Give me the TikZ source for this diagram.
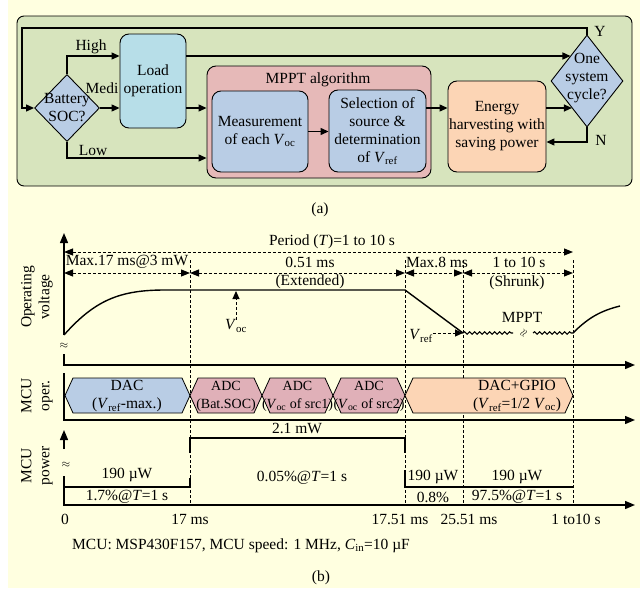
\documentclass[tikz,border=0pt]{standalone}
\usepackage{fontspec}
\setmainfont{Liberation Serif}
\usetikzlibrary{shapes.geometric,arrows.meta,decorations.pathmorphing}

\definecolor{bgyellow}{HTML}{FFFFE0}
\definecolor{flowgreen}{HTML}{D7E4BD}
\definecolor{boxblue}{HTML}{B9CDE5}
\definecolor{boxcyan}{HTML}{B7DEE8}
\definecolor{boxpink}{HTML}{E6B9B8}
\definecolor{adcpink}{HTML}{E0B0B8}
\definecolor{boxpeach}{HTML}{FCD5B5}

\def \xo {64}
\def \ta {190}
\def \tb {405}
\def \tc {463}
\def \td {573}
\newcommand{\Vsub}[1]{\textit{V}\textsubscript{#1}}
\tikzstyle{txt}=[font=\fontsize{15.5}{18}\selectfont, inner sep=0pt, align=center]
\tikzstyle{smalltxt}=[font=\fontsize{14}{18}\selectfont, inner sep=0pt, align=center]
\tikzstyle{brk}=[font=\fontsize{11}{11}\selectfont, inner sep=0pt]
\tikzstyle{blk}=[draw, rounded corners=9pt, line width=0.9pt]
\tikzstyle{dec}=[draw, diamond, line width=0.9pt, fill=boxblue, inner sep=0pt]
\tikzstyle{arr}=[-{Triangle[length=8pt,width=7pt]}, line width=1.3pt]
\tikzstyle{axis}=[-{Triangle[length=10pt,width=8pt]}, line width=1.4pt]
\tikzstyle{dim}=[{Triangle[length=9pt,width=7pt]}-{Triangle[length=9pt,width=7pt]}, dash pattern=on 3pt off 2pt, line width=1pt]
\tikzstyle{darr}=[-{Triangle[length=8pt,width=7pt]}, dash pattern=on 3pt off 2pt, line width=1pt]
\tikzstyle{vline}=[dash pattern=on 3pt off 2pt, line width=1pt]
\tikzstyle{wave}=[decorate, decoration={snake, amplitude=1.2pt, segment length=5pt}, line width=1.1pt]
\tikzstyle{level}=[line width=1.4pt]

\begin{document}
\begin{tikzpicture}[x=1pt, y=-1pt]
\useasboundingbox (0,0) rectangle (640,597);
\fill[white] (0,0) rectangle (640,597);
\fill[bgyellow] (8,0) rectangle (640,588);

\filldraw[fill=flowgreen, rounded corners=7pt, line width=0.9pt] (17,16) rectangle (632,186);

\node[dec, minimum width=65, minimum height=67] (B) at (67,108) {};
\node[txt] (Bt) at (B) {Battery\\SOC?};
\node[blk, txt, fill=boxcyan, minimum width=66, minimum height=94] (L) at (153,81) {Load\\operation};
\node[blk, fill=boxpink, minimum width=224, minimum height=112] (M) at (319,122) {};
\node[txt] (Mt) at (318,80) {MPPT algorithm};
\node[blk, txt, fill=boxblue, minimum width=96, minimum height=81] (Me) at (260,131.5) {Measurement\\of each \Vsub{oc}};
\node[blk, txt, fill=boxblue, minimum width=97, minimum height=82] (S) at (377.5,131) {Selection of\\source \&\\determination\\of \Vsub{ref}};
\node[blk, txt, fill=boxpeach, minimum width=98, minimum height=91] (E) at (497,126.5) {Energy\\harvesting with\\saving power};
\node[dec, minimum width=72, minimum height=92] (C) at (587,81) {};
\node[txt] (Ct) at (587,78) {One\\system\\cycle?};

\coordinate (tl) at (22,28);
\coordinate (hi) at (0,56);
\coordinate (mid) at (0,108);
\coordinate (no) at (0,142);
\coordinate (lo) at (0,158);

\draw[arr] (C.north) |- (tl) |- (B.west);
\draw[arr] (B.north) |- (L.west |- hi);
\draw[arr] (B.east) -- (L.west |- B.east);
\draw[arr] (B.south) |- (M.west |- lo);
\draw[arr] (L.east |- mid) -- (M.west |- mid);
\draw[arr] (L.east |- hi) -- (C.123 |- hi);
\draw[arr] (Me.east) -- (Me.east -| S.west);
\draw[arr] (S.east |- mid) -- (E.west |- mid);
\draw[arr] (E.east |- mid) -- (C.241 |- mid);
\draw[arr] (C.south) |- (E.east |- no);

\node[txt] (hiL) at (91,47) {High};
\node[txt] (meL) at (102,88) {Medi};
\node[txt] (loL) at (93,150) {Low};
\node[txt] (yL) at (600,31) {Y};
\node[txt] (nL) at (601,140) {N};
\node[txt] (capa) at (320,210) {(a)};

\node[txt, rotate=90] (yv) at (37,297) {Operating\\voltage};
\node[txt, rotate=90] (yo) at (37,396) {MCU\\oper.};
\node[txt, rotate=90] (yp) at (37,466) {MCU\\power};

\draw[axis] (\xo,335) -- (\xo,233);
\draw[axis] (\xo,354) -- (\xo,365) -- (635,365);
\node[brk] (brk1) at (\xo,346) {$\approx$};
\draw[axis] (\xo,373) -- (\xo,420) -- (635,420);
\draw[axis] (\xo,449) -- (\xo,430);
\node[brk] (brk2) at (66,465) {$\approx$};
\draw[axis] (\xo,476) -- (\xo,505) -- (635,505);

\draw[dim] (\xo,252) -- (\td,252);
\foreach \a/\b in {\xo/\ta, \ta/\tb, \tb/\tc, \tc/\td}
    \draw[dim] (\a,273) -- (\b,273);
\foreach \x in {\ta, \tb, \tc, \td}
    \draw[vline] (\x,260) -- (\x,505);

\node[txt] (per) at (332,242) {Period (\textit{T})=1 to 10 s};
\node[txt] (d1) at (127,262) {Max.17 ms@3 mW};
\node[txt] (d2) at (310,262) {0.51 ms};
\node[txt] (d2b) at (310,282) {(Extended)};
\node[txt] (d3) at (437,262) {Max.8 ms};
\node[txt] (d4) at (519,262) {1 to 10 s};
\node[txt] (d4b) at (517,283) {(Shrunk)};

\coordinate (flat) at (0,291);
\coordinate (dip) at (\tc,333);
\draw[level] (\xo,335) .. controls (95,300) and (120,290) .. (165,290) -- (\tb,290) -- (dip);
\draw[wave] (dip) -- (513,333);
\node[brk, rotate=60] (brk3) at (524,333) {$\approx$};
\draw[wave] (533,333) -- (\td,333);
\draw[level] (\td,333) .. controls (588,318) and (600,311) .. (620,306);
\node[txt] (mppt) at (522,317) {MPPT};
\node[txt] (voc) at (236,326) {\Vsub{oc}};
\draw[darr] (voc.north) -- (voc.north |- flat);
\node[txt] (vref) at (421,336) {\Vsub{ref}};
\draw[darr] (vref.east |- dip) -- (dip);

\foreach \a/\b/\c in {65/\ta/boxblue, \ta/262/adcpink, 262/333/adcpink, 333/\tb/adcpink, \tb/\td/boxpeach}
    \filldraw[fill=\c, line width=0.8pt] (\a,395.5) -- (\a+8,378) -- (\b-8,378) -- (\b,395.5) -- (\b-8,413) -- (\a+8,413) -- cycle;
\node[txt] (op1) at (127,396) {DAC\\(\Vsub{ref}-max.)};
\node[smalltxt] (op2) at (226,396) {ADC\\(Bat.SOC)};
\node[smalltxt] (op3) at (297.5,396) {ADC\\(\Vsub{oc} of src1)};
\node[smalltxt] (op4) at (369,396) {ADC\\(\Vsub{oc} of src2)};
\node[txt] (op5) at (517,396) {DAC+GPIO\\(\Vsub{ref}=1/2 \Vsub{oc})};

\draw[level] (\xo,487) -- (\ta,487) -- (\ta,478);
\draw[level] (\ta,453) -- (\ta,438) -- (\tb,438) -- (\tb,453);
\draw[level] (\tb,470) -- (\tb,487) -- (\td,487);

\node[txt] (p1) at (297,428) {2.1 mW};
\node[txt] (p2) at (127,475) {190 µW};
\node[txt] (p3) at (127,497) {1.7\%@\textit{T}=1 s};
\node[txt] (p4) at (302,478) {0.05\%@\textit{T}=1 s};
\node[txt] (p5) at (433,477) {190 µW};
\node[txt] (p6) at (517,477) {190 µW};
\node[txt] (p7) at (433,497) {0.8\%};
\node[txt] (p8) at (517,497) {97.5\%@\textit{T}=1 s};

\node[txt] (t0) at (65,519) {0};
\node[txt] (t1) at (\ta,519) {17 ms};
\node[txt] (t2) at (400,519) {17.51 ms};
\node[txt] (t3) at (469,519) {25.51 ms};
\node[txt] (t4) at (576,519) {1 to10 s};

\node[txt, anchor=west] (note) at (72,546) {MCU: MSP430F157, MCU speed: 1 MHz, \textit{C}\textsubscript{in}=10 µF};
\node[txt] (capb) at (321,578) {(b)};
\end{tikzpicture}
\end{document}
